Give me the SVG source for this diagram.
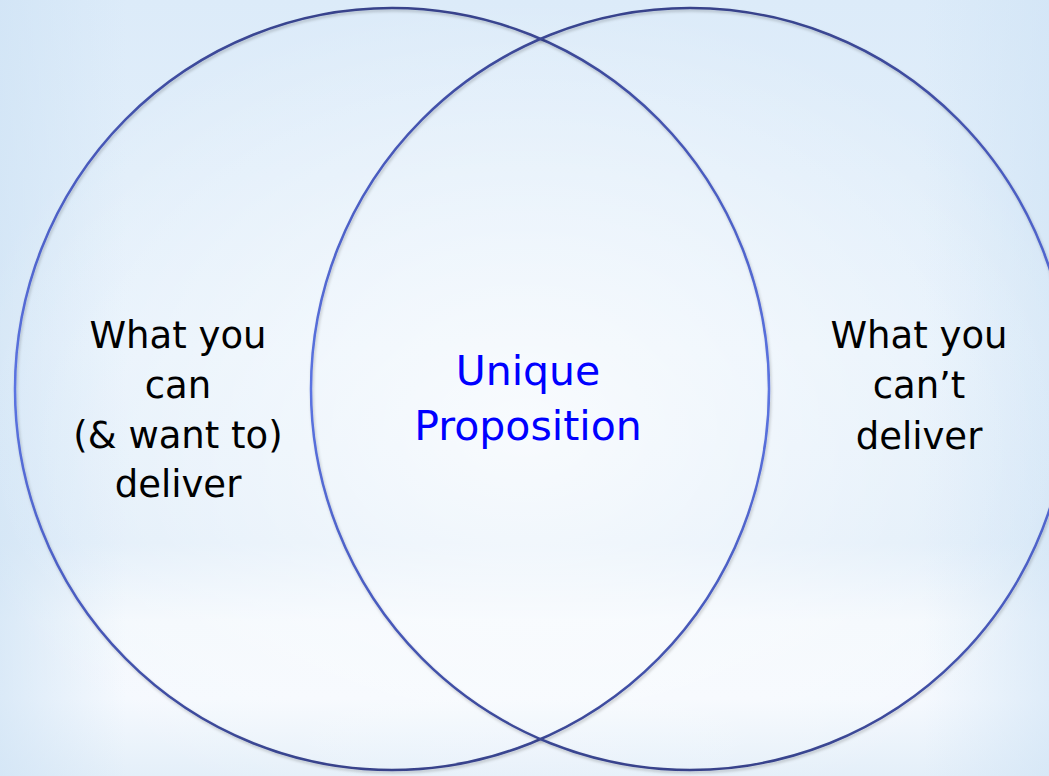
<svg xmlns="http://www.w3.org/2000/svg" width="1049" height="776" viewBox="0 0 1049 776">
  <defs>
    <linearGradient id="bgV" x1="0" y1="0" x2="0" y2="1">
      <stop offset="0" stop-color="#dcebf9"/>
      <stop offset="0.45" stop-color="#e6f1fb"/>
      <stop offset="0.70" stop-color="#e0edf9"/>
      <stop offset="0.80" stop-color="#f3f8fd"/>
      <stop offset="0.90" stop-color="#f5f9fe"/>
      <stop offset="1" stop-color="#e4eff9"/>
    </linearGradient>
    <radialGradient id="glow" cx="0.5" cy="0.55" r="0.55">
      <stop offset="0" stop-color="#ffffff" stop-opacity="0.75"/>
      <stop offset="0.6" stop-color="#ffffff" stop-opacity="0.3"/>
      <stop offset="1" stop-color="#ffffff" stop-opacity="0"/>
    </radialGradient>
    <linearGradient id="edge" x1="0" y1="0" x2="1" y2="0">
      <stop offset="0" stop-color="#cfe3f5" stop-opacity="0.7"/>
      <stop offset="0.12" stop-color="#cfe3f5" stop-opacity="0"/>
      <stop offset="0.88" stop-color="#cfe3f5" stop-opacity="0"/>
      <stop offset="1" stop-color="#cfe3f5" stop-opacity="0.6"/>
    </linearGradient>
    <linearGradient id="ring" x1="0" y1="0" x2="0" y2="1">
      <stop offset="0" stop-color="#37428a"/>
      <stop offset="0.22" stop-color="#4a5cc0"/>
      <stop offset="0.5" stop-color="#5b74e2"/>
      <stop offset="0.78" stop-color="#4a5cc0"/>
      <stop offset="1" stop-color="#37428a"/>
    </linearGradient>
    <filter id="shadow" x="-10%" y="-10%" width="120%" height="120%">
      <feDropShadow dx="1" dy="2" stdDeviation="1.5" flood-color="#000000" flood-opacity="0.22"/>
    </filter>
  </defs>
  <style>
    .ring { fill: none; stroke: url(#ring); stroke-width: 2.5; filter: url(#shadow); }
    .side { font-family: "DejaVu Sans", "Liberation Sans", sans-serif; font-size: 37px; fill: #000000; text-anchor: middle; }
    .mid { font-family: "DejaVu Sans", "Liberation Sans", sans-serif; font-size: 41px; fill: #0000ff; text-anchor: middle; }
  </style>
  <rect x="0" y="0" width="1049" height="776" fill="url(#bgV)"/>
  <rect x="0" y="0" width="1049" height="776" fill="url(#edge)"/>
  <rect x="0" y="0" width="1049" height="776" fill="url(#glow)"/>

  <g id="connectors"></g>

  <g id="left-circle">
    <ellipse class="ring" cx="392" cy="389" rx="377" ry="381"/>
    <text class="side" x="178" y="348">What you</text>
    <text class="side" x="178" y="398">can</text>
    <text class="side" x="178" y="448">(&amp; want to)</text>
    <text class="side" x="178" y="497">deliver</text>
  </g>

  <g id="right-circle">
    <ellipse class="ring" cx="690" cy="389" rx="379" ry="381"/>
    <text class="side" x="919" y="348">What you</text>
    <text class="side" x="919" y="398">can’t</text>
    <text class="side" x="919" y="449">deliver</text>
  </g>

  <g id="intersection">
    <text class="mid" x="528" y="385">Unique</text>
    <text class="mid" x="528" y="440">Proposition</text>
  </g>
</svg>
